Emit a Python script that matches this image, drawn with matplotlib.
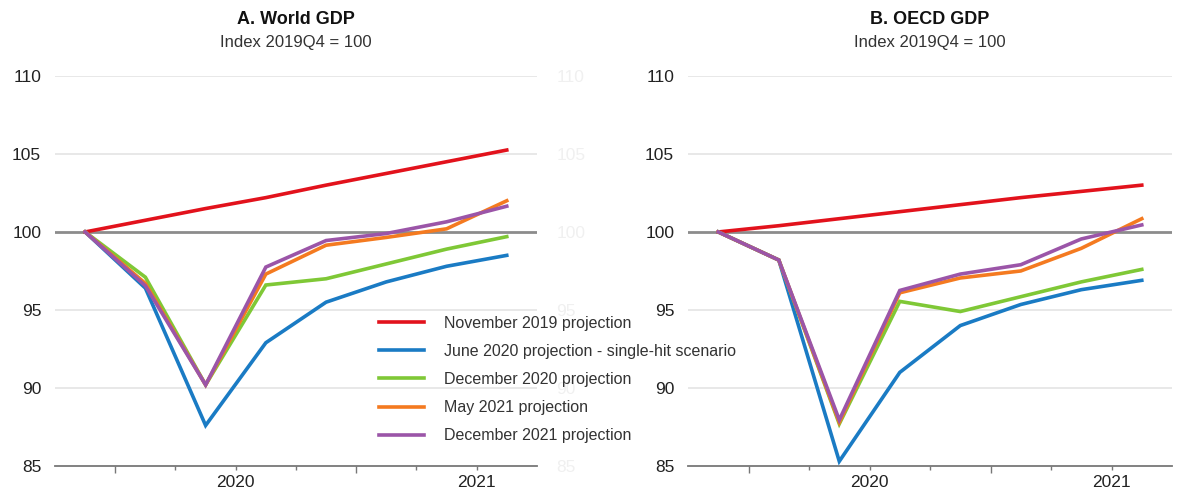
import numpy as np
import matplotlib.pyplot as plt

plt.rcParams['font.family'] = ['Liberation Sans', 'DejaVu Sans']

# quarters 2019Q4 .. 2021Q3
quarters = ['2019Q4', '2020Q1', '2020Q2', '2020Q3', '2020Q4', '2021Q1', '2021Q2', '2021Q3']
year_labels = ['2020', '2021']
year_pos = [2.5, 6.5]

labels = ['November 2019 projection',
          'June 2020 projection - single-hit scenario',
          'December 2020 projection',
          'May 2021 projection',
          'December 2021 projection']
colors = ['#e2121c', '#1a7bc4', '#7fc836', '#f47a20', '#9b55a8']

world_nov19 = [100, 100.75, 101.5, 102.2, 103.0, 103.75, 104.5, 105.25]
world_jun20 = [100, 96.4, 87.6, 92.9, 95.5, 96.8, 97.8, 98.5]
world_dec20 = [100, 97.1, 90.2, 96.6, 97.0, 97.95, 98.9, 99.7]
world_may21 = [100, 96.7, 90.2, 97.3, 99.15, 99.65, 100.2, 102.0]
world_dec21 = [100, 96.55, 90.2, 97.75, 99.45, 99.9, 100.65, 101.65]

oecd_nov19 = [100, 100.4, 100.85, 101.3, 101.75, 102.2, 102.6, 103.0]
oecd_jun20 = [100, 98.2, 85.3, 91.0, 94.0, 95.35, 96.3, 96.9]
oecd_dec20 = [100, 98.2, 87.7, 95.55, 94.9, 95.85, 96.8, 97.6]
oecd_may21 = [100, 98.2, 87.8, 96.1, 97.05, 97.5, 98.95, 100.85]
oecd_dec21 = [100, 98.2, 87.95, 96.25, 97.3, 97.9, 99.55, 100.45]

panels = [
    ('A. World GDP', [world_nov19, world_jun20, world_dec20, world_may21, world_dec21]),
    ('B. OECD GDP', [oecd_nov19, oecd_jun20, oecd_dec20, oecd_may21, oecd_dec21]),
]

fig = plt.figure(figsize=(11.81, 4.95), dpi=100)
axes_pos = [[0.0466, 0.0586, 0.408, 0.788], [0.5826, 0.0586, 0.4098, 0.788]]

x = np.arange(len(quarters))
yticks = [85, 90, 95, 100, 105, 110]

for k, (title, series) in enumerate(panels):
    ax = fig.add_axes(axes_pos[k])
    for yv in yticks[1:]:
        if yv == 100:
            ax.axhline(yv, color='#8c8c8c', lw=2.0, zorder=2)
        else:
            ax.axhline(yv, color='#e4e4e4', lw=1.2, zorder=1)
    for s, c, lab in zip(series, colors, labels):
        ax.plot(x, s, color=c, lw=2.6, label=lab, zorder=3,
                solid_joinstyle='miter')
    ax.set_xlim(-0.5, 7.5)
    ax.set_ylim(85, 110)
    ax.set_yticks(yticks)
    ax.set_yticklabels([str(v) for v in yticks], fontsize=12.5, color='#222222')
    ax.tick_params(axis='y', length=0, pad=10)

    # x axis: tall ticks at year boundaries, short at quarter boundaries
    ax.set_xticks([0.5, 4.5])
    ax.set_xticklabels([])
    ax.set_xticks([1.5, 2.5, 3.5, 5.5, 6.5], minor=True)
    ax.tick_params(axis='x', which='major', length=5, color='#777777', width=1)
    ax.tick_params(axis='x', which='minor', length=3, color='#777777', width=1)
    for lab, p in zip(year_labels, year_pos):
        ax.text(p, -0.022, lab, transform=ax.get_xaxis_transform(),
                ha='center', va='top', fontsize=12.5, color='#222222')

    for side in ['left', 'right', 'top']:
        ax.spines[side].set_visible(False)
    ax.spines['bottom'].set_color('#777777')
    ax.spines['bottom'].set_linewidth(1.3)

    ax.text(0.5, 1.144, title, transform=ax.transAxes, ha='center', va='center',
            fontsize=13, fontweight='bold', color='#111111')
    ax.text(0.5, 1.085, 'Index 2019Q4 = 100', transform=ax.transAxes, ha='center',
            va='center', fontsize=12, color='#333333')

    if k == 0:
        ax2 = ax.twinx()
        ax2.set_ylim(85, 110)
        ax2.set_yticks(yticks)
        ax2.set_yticklabels([str(v) for v in yticks], fontsize=12.5, color='#f0f0f0')
        ax2.tick_params(axis='y', length=0, pad=14)
        for side in ax2.spines:
            ax2.spines[side].set_visible(False)
        leg = ax.legend(loc='upper left', bbox_to_anchor=(0.672, 0.385),
                        frameon=False, fontsize=11.5, handlelength=2.8,
                        handletextpad=1.25, labelspacing=0.82,
                        borderpad=0, borderaxespad=0)
        for t in leg.get_texts():
            t.set_color('#333333')
        leg.set_zorder(5)
        ax.set_zorder(ax2.get_zorder() + 1)
        ax.patch.set_visible(False)

fig.savefig('out.png', dpi=100)
